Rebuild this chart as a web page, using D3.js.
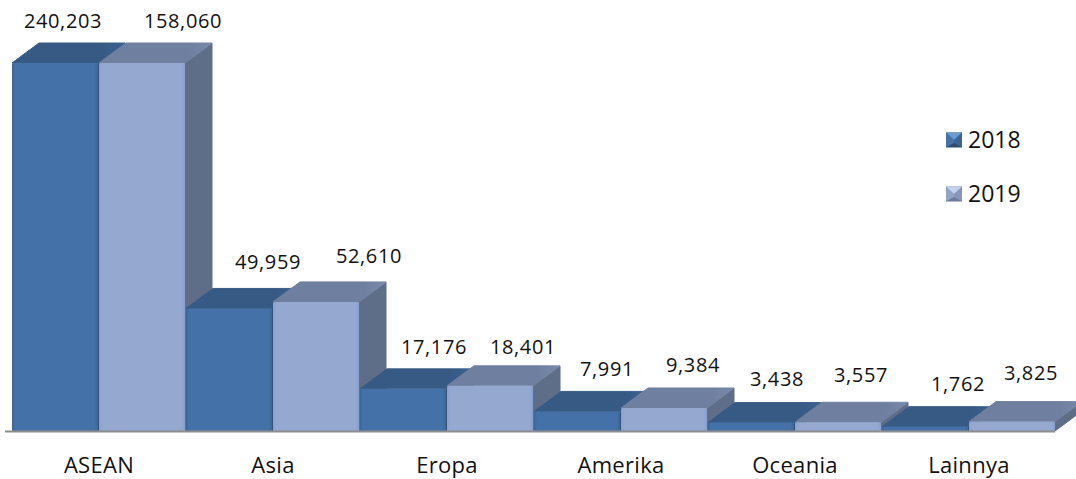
<!DOCTYPE html>
<html>
<head>
<meta charset="utf-8">
<style>
  html, body { margin: 0; background: #fff; }
  svg { display: block; }
  text { font-family: "Open Sans", sans-serif; fill: #111; }
</style>
<script src="https://cdn.jsdelivr.net/npm/d3@7"></script>
</head>
<body>
<svg id="chart" width="1076" height="479"></svg>
<script>
const categories = ['ASEAN', 'Asia', 'Eropa', 'Amerika', 'Oceania', 'Lainnya'];
const seriesNames = ['2018', '2019'];
const values2018 = [240203, 49959, 17176, 7991, 3438, 1762];
const values2019 = [158060, 52610, 18401, 9384, 3557, 3825];

// label nudges, the original has them hand placed
const labelDx2018 = [8, 39, 31, 30, 26, 33];
const labelDx2019 = [41, 53, 33, 29, 23, 19];
const labelDy2018 = [1, -3, 1, 1, -1, 0];
const labelDy2019 = [1, -3, 4, 0, -4, -6];

const colors = {
  2018: { edge: '#3b6593', front: '#4472a8', top: '#375a85', topEdge: '#3c6290', side: '#34547c' },
  2019: { edge: '#86a0cf', front: '#94a8d0', top: '#6f7f9f', topEdge: '#7a8aab', side: '#5f6e88' },
};

const depthX = 27;
const depthY = 20;
const baseY = 431;

const svg = d3.select('#chart');

const x0 = d3.scaleBand().domain(categories).range([12, 1056]);
const x1 = d3.scaleBand().domain(seriesNames).range([0, x0.bandwidth()]);
// the value axis of the original stops at 150,000, taller bars get cut off there
const y = d3.scaleLinear().domain([0, 150000]).range([baseY, 63]).clamp(true);

const bars = categories.flatMap((c, i) => [
  { cat: c, name: '2018', value: values2018[i], dx: labelDx2018[i], dy: labelDy2018[i] },
  { cat: c, name: '2019', value: values2019[i], dx: labelDx2019[i], dy: labelDy2019[i] },
]);

const defs = svg.append('defs');
seriesNames.forEach((name) => {
  const c = colors[name];
  const front = defs.append('linearGradient').attr('id', `front${name}`);
  [[0, c.edge], [0.035, c.front], [0.96, c.front], [1, c.edge]].forEach(([o, col]) => {
    front.append('stop').attr('offset', o).attr('stop-color', col);
  });
  const top = defs.append('linearGradient').attr('id', `top${name}`);
  [[0, c.top], [0.8, c.top], [1, c.topEdge]].forEach(([o, col]) => {
    top.append('stop').attr('offset', o).attr('stop-color', col);
  });
});

const barWidth = x1.bandwidth() - 1;

const bar = svg
  .append('g')
  .selectAll('g')
  .data(bars)
  .enter()
  .append('g')
  .attr('transform', (d) => `translate(${x0(d.cat) + x1(d.name)},0)`);

// side face
bar
  .append('path')
  .attr('fill', (d) => colors[d.name].side)
  .attr('stroke', (d) => colors[d.name].side)
  .attr('stroke-linejoin', 'round')
  .attr('d', (d) => {
    const t = y(d.value);
    return `M${barWidth},${t}L${barWidth + depthX},${t - depthY}L${barWidth + depthX},${baseY - depthY}L${barWidth},${baseY}Z`;
  });

// top face
bar
  .append('path')
  .attr('fill', (d) => `url(#top${d.name})`)
  .attr('stroke', (d) => `url(#top${d.name})`)
  .attr('stroke-linejoin', 'round')
  .attr('d', (d) => {
    const t = y(d.value);
    return `M0,${t}L${depthX},${t - depthY}L${barWidth + depthX},${t - depthY}L${barWidth},${t}Z`;
  });

// front face
bar
  .append('rect')
  .attr('y', (d) => y(d.value))
  .attr('width', barWidth)
  .attr('height', (d) => baseY - y(d.value))
  .attr('rx', 1.5)
  .attr('fill', (d) => `url(#front${d.name})`);

const xAxis = d3.axisBottom(x0).tickSize(0).tickPadding(26);
const axis = svg
  .append('g')
  .attr('transform', `translate(0,${baseY})`)
  .call(xAxis);
axis.select('.domain').remove();
axis.selectAll('text').style('font-size', '22px').style('letter-spacing', '0.3px');

svg
  .append('line')
  .attr('x1', 5)
  .attr('x2', 1055)
  .attr('y1', baseY + 0.5)
  .attr('y2', baseY + 0.5)
  .attr('stroke', '#8e8e8e')
  .attr('stroke-width', 2);

// value labels
svg
  .append('g')
  .selectAll('text')
  .data(bars)
  .enter()
  .append('text')
  .attr('x', (d) => x0(d.cat) + x1(d.name) + barWidth / 2 + d.dx)
  .attr('y', (d) => y(d.value) - 43 + d.dy)
  .attr('dy', '0.35em')
  .attr('text-anchor', 'middle')
  .style('font-size', '20px')
  .style('letter-spacing', '0.6px')
  .text((d) => d3.format(',')(d.value));

// legend
const legendY = d3.scalePoint().domain(seriesNames).range([140, 194]);
const legendColors = {
  2018: { top: '#6a9bd3', left: '#4672a4', right: '#3c6592', bottom: '#2c4c72' },
  2019: { top: '#c3d2ee', left: '#93a4c6', right: '#8796b8', bottom: '#6b7a9a' },
};
const legend = svg
  .append('g')
  .selectAll('g')
  .data(seriesNames)
  .enter()
  .append('g')
  .attr('transform', (d) => `translate(946,${legendY(d)})`);

const keySize = 16;
const faces = [
  ['bottom', `M0,7.5L${keySize},7.5L${keySize},-7.5L0,-7.5Z`],
  ['left', 'M0,-7.5L8,0L8,3L0,7.5Z'],
  ['right', `M${keySize},-7.5L${keySize - 8},0L${keySize - 8},3L${keySize},7.5Z`],
  ['top', `M0,-7.5L${keySize},-7.5L${keySize / 2},0Z`],
];
faces.forEach(([face, d]) => {
  legend.append('path').attr('d', d).attr('fill', (s) => legendColors[s][face]);
});

legend
  .append('text')
  .attr('x', 22)
  .attr('dy', '0.35em')
  .style('font-size', '23px')
  .text((d) => d);
</script>
</body>
</html>
